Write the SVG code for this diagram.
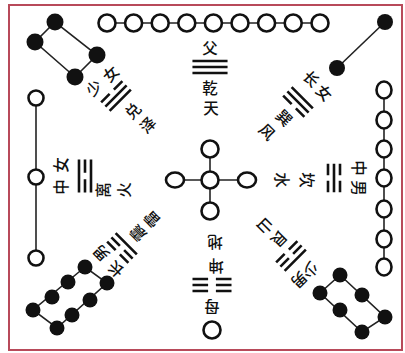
<svg xmlns="http://www.w3.org/2000/svg" width="405" height="353" viewBox="0 0 405 353">
<style>
.w{fill:#fff;stroke:#111;stroke-width:2.6}
.b{fill:#111;stroke:none}
.c{stroke:#222;stroke-width:1.6;fill:none}
.t{font-family:"Noto Sans CJK SC","Noto Sans CJK TC",sans-serif;font-size:15.5px;font-weight:500;fill:#111;text-anchor:middle;dominant-baseline:central}
.g{stroke:#111;stroke-width:2.6;fill:none}
</style>
<defs>
<path id="qian" class="g" d="M-15,-6H15M-15,0H15M-15,6H15"/>
<path id="kun" class="g" d="M-15,-6H-3M3,-6H15M-15,0H-3M3,0H15M-15,6H-3M3,6H15"/>
<path id="li" class="g" d="M-15,-6H15M-15,0H-3M3,0H15M-15,6H15"/>
<path id="kan" class="g" d="M-15,-6H-3M3,-6H15M-15,0H15M-15,6H-3M3,6H15"/>
<path id="dui" class="g" d="M-15,-6H-3M3,-6H15M-15,0H15M-15,6H15"/>
<path id="xun" class="g" d="M-15,-6H15M-15,0H15M-15,6H-3M3,6H15"/>
<path id="zhen" class="g" d="M-15,-6H-3M3,-6H15M-15,0H-3M3,0H15M-15,6H15"/>
<path id="gen" class="g" d="M-15,-6H15M-15,0H-3M3,0H15M-15,6H-3M3,6H15"/>
</defs>
<rect x="9" y="5" width="393" height="345" fill="#fff" stroke="#b84a5a" stroke-width="2"/>

<g id="connectors" class="c">
<line x1="107" y1="23" x2="320" y2="23"/>
<line x1="385" y1="22" x2="337" y2="68"/>
<polygon points="55,22 35,42 75,77 97,55"/>
<line x1="36" y1="98" x2="36" y2="258"/>
<line x1="384" y1="90" x2="384" y2="267"/>
<line x1="175" y1="180" x2="247" y2="180"/>
<line x1="210" y1="149" x2="210" y2="211"/>
<polygon points="85,267 33,310 57,328 107,283"/>
<polygon points="340,275 385,317 362,332 320,293"/>
</g>

<g id="n9">
<circle class="w" cx="107" cy="23" r="8.5"/>
<circle class="w" cx="133.6" cy="23" r="8.5"/>
<circle class="w" cx="160.2" cy="23" r="8.5"/>
<circle class="w" cx="186.8" cy="23" r="8.5"/>
<circle class="w" cx="213.4" cy="23" r="8.5"/>
<circle class="w" cx="240" cy="23" r="8.5"/>
<circle class="w" cx="266.6" cy="23" r="8.5"/>
<circle class="w" cx="293.2" cy="23" r="8.5"/>
<circle class="w" cx="320" cy="23" r="8.5"/>
</g>
<g id="n2">
<circle class="b" cx="385" cy="22" r="8"/>
<circle class="b" cx="337" cy="68" r="8"/>
</g>
<g id="n4">
<circle class="b" cx="55" cy="22" r="8.5"/>
<circle class="b" cx="35" cy="42" r="8.5"/>
<circle class="b" cx="97" cy="55" r="8.5"/>
<circle class="b" cx="75" cy="77" r="8.5"/>
</g>
<g id="n3">
<circle class="w" cx="36" cy="98" r="7.5"/>
<circle class="w" cx="36" cy="177" r="7.5"/>
<circle class="w" cx="36" cy="258" r="7.5"/>
</g>
<g id="n7">
<ellipse class="w" cx="384" cy="90" rx="7.5" ry="8.5"/>
<ellipse class="w" cx="384" cy="120" rx="7.5" ry="8.5"/>
<ellipse class="w" cx="384" cy="149" rx="7.5" ry="8.5"/>
<ellipse class="w" cx="384" cy="178" rx="7.5" ry="8.5"/>
<ellipse class="w" cx="384" cy="209" rx="7.5" ry="8.5"/>
<ellipse class="w" cx="384" cy="239" rx="7.5" ry="8.5"/>
<ellipse class="w" cx="384" cy="267" rx="7.5" ry="8.5"/>
</g>
<g id="n5">
<circle class="w" cx="210" cy="149" r="8.5"/>
<ellipse class="w" cx="175" cy="180" rx="9" ry="7.5"/>
<circle class="w" cx="210" cy="180" r="8.5"/>
<ellipse class="w" cx="247" cy="180" rx="9" ry="7.5"/>
<circle class="w" cx="210" cy="211" r="8.5"/>
</g>
<g id="n1">
<circle class="w" cx="212" cy="330" r="8.5"/>
</g>
<g id="n8">
<circle class="b" cx="85" cy="267" r="7.5"/>
<circle class="b" cx="68" cy="282" r="7.5"/>
<circle class="b" cx="52" cy="297" r="7.5"/>
<circle class="b" cx="33" cy="310" r="7.5"/>
<circle class="b" cx="107" cy="283" r="7.5"/>
<circle class="b" cx="90" cy="300" r="7.5"/>
<circle class="b" cx="72" cy="315" r="7.5"/>
<circle class="b" cx="57" cy="328" r="7.5"/>
</g>
<g id="n6">
<circle class="b" cx="340" cy="275" r="7.5"/>
<circle class="b" cx="362" cy="295" r="7.5"/>
<circle class="b" cx="385" cy="317" r="7.5"/>
<circle class="b" cx="320" cy="293" r="7.5"/>
<circle class="b" cx="340" cy="310" r="7.5"/>
<circle class="b" cx="362" cy="332" r="7.5"/>
</g>

<g id="qian-label">
<text class="t" transform="translate(210,47)">父</text>
<use href="#qian" transform="translate(210,67) scale(1.17,1)"/>
<text class="t" transform="translate(210,87)">乾</text>
<text class="t" transform="translate(211,107)">天</text>
</g>
<g id="kun-label">
<text class="t" transform="translate(212,308) rotate(180)">母</text>
<use href="#kun" transform="translate(212,285) rotate(180) scale(1.3,1)"/>
<text class="t" transform="translate(216,267) rotate(180)">坤</text>
<text class="t" transform="translate(215,243) rotate(180)">地</text>
</g>
<g id="li-label">
<text class="t" transform="translate(60,187) rotate(-90)">中</text>
<text class="t" transform="translate(60,165) rotate(-90)">女</text>
<use href="#li" transform="translate(85,176) rotate(-90) scale(1.1,1)"/>
<text class="t" transform="translate(102,190) rotate(-90)">离</text>
<text class="t" transform="translate(123,190) rotate(-90)">火</text>
</g>
<g id="kan-label">
<text class="t" transform="translate(360,168) rotate(90)">中</text>
<text class="t" transform="translate(360,188) rotate(90)">男</text>
<use href="#kan" transform="translate(334,178) rotate(90) scale(0.95,1)"/>
<text class="t" transform="translate(308,180) rotate(90)">坎</text>
<text class="t" transform="translate(283,180) rotate(90)">水</text>
</g>
<g id="dui-label">
<text class="t" transform="translate(93,87) rotate(-45)">少</text>
<text class="t" transform="translate(110,73) rotate(-45)">女</text>
<use href="#dui" transform="translate(116,96) rotate(-45)"/>
<text class="t" transform="translate(132,110) rotate(-45)">兑</text>
<text class="t" transform="translate(147,124) rotate(-45)">泽</text>
</g>
<g id="xun-label">
<text class="t" transform="translate(312,78) rotate(45)">长</text>
<text class="t" transform="translate(325,92) rotate(45)">女</text>
<use href="#xun" transform="translate(298,102) rotate(45)"/>
<text class="t" transform="translate(285,117) rotate(45)">巽</text>
<text class="t" transform="translate(268,131) rotate(45)">风</text>
</g>
<g id="gen-label">
<text class="t" transform="translate(311,271) rotate(135)">少</text>
<text class="t" transform="translate(300,281) rotate(135)">男</text>
<use href="#gen" transform="translate(291,256) rotate(135)"/>
<text class="t" transform="translate(280,240) rotate(135)">艮</text>
<text class="t" transform="translate(266,227) rotate(135)">山</text>
</g>
<g id="zhen-label">
<text class="t" transform="translate(115,270) rotate(225)">长</text>
<text class="t" transform="translate(100,254) rotate(225)">男</text>
<use href="#zhen" transform="translate(122,248) rotate(225)"/>
<text class="t" transform="translate(137,234) rotate(225)">震</text>
<text class="t" transform="translate(151,220) rotate(225)">雷</text>
</g>
</svg>
